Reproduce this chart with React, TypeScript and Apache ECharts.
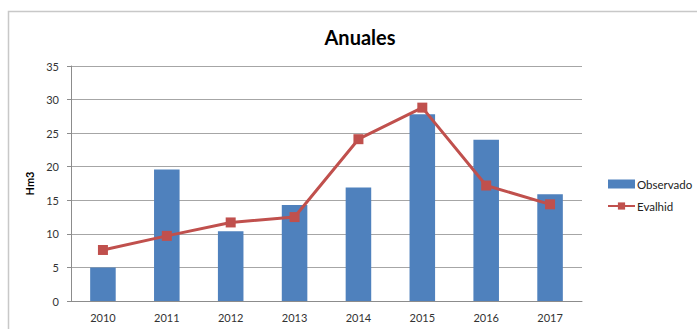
import React, { useEffect, useRef } from "react";
import * as echarts from "echarts";

const categories = ["2010", "2011", "2012", "2013", "2014", "2015", "2016", "2017"];
const observado = [5.0, 19.6, 10.4, 14.3, 16.9, 27.8, 24.0, 15.9];
const evalhid = [7.6, 9.7, 11.7, 12.5, 24.1, 28.8, 17.2, 14.4];

const FONT = "Lato, 'Open Sans', sans-serif";

export default function App() {
  const ref = useRef<HTMLDivElement>(null);
  useEffect(() => {
    if (!ref.current) return;
    const chart = echarts.init(ref.current, null, { renderer: "svg" });
    chart.setOption({
      animation: false,
      backgroundColor: "#ffffff",
      textStyle: { fontFamily: FONT },
      title: {
        text: "Anuales",
        left: 355,
        top: 22,
        textAlign: "center",
        textStyle: { fontFamily: FONT, fontSize: 20, fontWeight: "bold", color: "#000000" },
      },
      graphic: [
        {
          type: "rect",
          shape: { x: 8.5, y: 11.5, width: 720, height: 340 },
          style: { fill: "none", stroke: "#c8c8c8", lineWidth: 1.5 },
          silent: true,
        },
      ],
      legend: {
        orient: "vertical",
        left: 602,
        top: 173,
        itemWidth: 27,
        itemHeight: 9,
        itemGap: 10,
        textStyle: { fontFamily: FONT, fontSize: 11.5, color: "#222222", padding: [0, 0, 0, -3] },
        data: [
          { name: "Observado", icon: "rect" },
          { name: "Evalhid" },
        ],
      },
      grid: { left: 71, right: 115, top: 66, bottom: 28, containLabel: false },
      xAxis: {
        type: "category",
        data: categories,
        axisLine: { lineStyle: { color: "#8c8c8c", width: 1 } },
        axisTick: { show: false },
        axisLabel: { fontFamily: FONT, fontSize: 11, color: "#333333", margin: 11 },
      },
      yAxis: {
        type: "value",
        min: 0,
        max: 35,
        interval: 5,
        name: "Hm3",
        nameLocation: "middle",
        nameGap: 28,
        nameRotate: 90,
        nameTextStyle: { fontFamily: FONT, fontSize: 11, fontWeight: "bold", color: "#000000" },
        axisLine: { show: true, lineStyle: { color: "#8c8c8c", width: 1 } },
        axisTick: { show: true, length: 4, lineStyle: { color: "#8c8c8c" } },
        axisLabel: { fontFamily: FONT, fontSize: 11, color: "#333333", margin: 12 },
        splitLine: { lineStyle: { color: "#a6a6a6", width: 1 } },
      },
      series: [
        {
          name: "Observado",
          type: "bar",
          data: observado,
          barWidth: "40%",
          itemStyle: { color: "#4f81bd" },
        },
        {
          name: "Evalhid",
          type: "line",
          data: evalhid,
          symbol: "rect",
          symbolSize: 10,
          lineStyle: { color: "#c0504d", width: 3 },
          itemStyle: { color: "#c0504d" },
        },
      ],
    });
    return () => chart.dispose();
  }, []);
  return <div ref={ref} style={{ width: 697, height: 329, position: "absolute", left: 0, top: 0 }} />;
}
